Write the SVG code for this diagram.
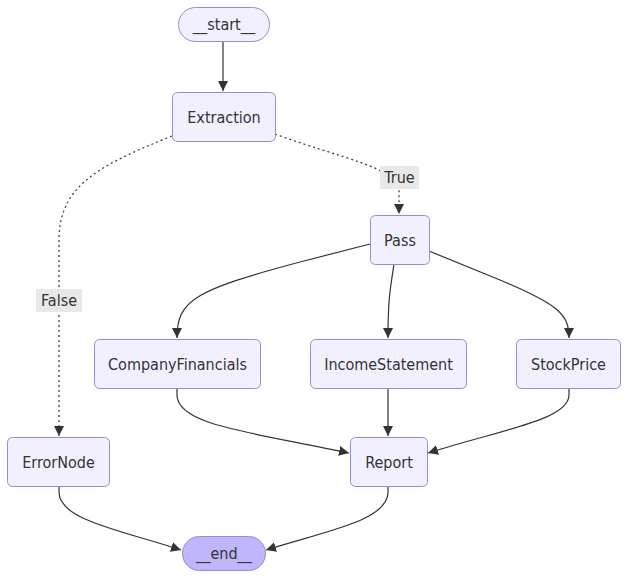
<svg xmlns="http://www.w3.org/2000/svg" width="629" height="579" viewBox="0 0 629 579">
<style>
.bg{fill:#ffffff}
.node rect{fill:#f2f0ff;stroke:#9c86d8;stroke-width:1}
.node.end rect{fill:#bfb6fc}
text{font-family:"Liberation Sans Narrow","DejaVu Sans Condensed","Liberation Sans",sans-serif;font-size:16px;fill:#333333;text-anchor:middle;dominant-baseline:central}
.edge{fill:none;stroke:#333333;stroke-width:1.2}
.dotted{stroke-dasharray:2 3}
.lbl rect{fill:#e8e8e8}
</style>
<defs>
<marker id="arrow" viewBox="0 0 10 10" refX="10" refY="5" markerWidth="10" markerHeight="10" markerUnits="userSpaceOnUse" orient="auto">
<path d="M0,0 L10,5 L0,10 z" fill="#333333"/>
</marker>
</defs>
<rect class="bg" x="0" y="0" width="629" height="579"/>
<g id="connectors">
<path class="edge" d="M223,41 L223,91" marker-end="url(#arrow)"/>
<path class="edge dotted" d="M275,134 C340,158 399,168 399,190 L399,214" marker-end="url(#arrow)"/>
<path class="edge dotted" d="M172,136 C100,165 59,185 59,240 L59,436" marker-end="url(#arrow)"/>
<path class="edge" d="M370,244 L300,262 C195,290 177,300 177,338" marker-end="url(#arrow)"/>
<path class="edge" d="M394,264 C390,290 388,300 388,338" marker-end="url(#arrow)"/>
<path class="edge" d="M429,251 L500,280 C560,305 569,315 569,338" marker-end="url(#arrow)"/>
<path class="edge" d="M177,388 L177,395 C177,425 250,432 349,453" marker-end="url(#arrow)"/>
<path class="edge" d="M388,388 L388,436" marker-end="url(#arrow)"/>
<path class="edge" d="M569,388 L569,395 C569,420 500,430 428,453" marker-end="url(#arrow)"/>
<path class="edge" d="M59,486 L59,492 C59,520 120,530 181,550" marker-end="url(#arrow)"/>
<path class="edge" d="M388,486 L388,492 C388,520 330,530 266,550" marker-end="url(#arrow)"/>
<g class="lbl" id="label-true"><rect x="380" y="166" width="39" height="23"/><text x="399.5" y="177.5">True</text></g>
<g class="lbl" id="label-false"><rect x="36" y="289" width="46" height="23"/><text x="59" y="300.5">False</text></g>
</g>
<g id="start" class="node"><rect x="178.5" y="7.5" width="91" height="34" rx="17"/><text x="224" y="24.5">__start__</text></g>
<g id="Extraction" class="node"><rect x="172.5" y="92.5" width="103" height="49" rx="5"/><text x="224" y="117">Extraction</text></g>
<g id="Pass" class="node"><rect x="370.5" y="215.5" width="59" height="49" rx="5"/><text x="400" y="240">Pass</text></g>
<g id="CompanyFinancials" class="node"><rect x="94.5" y="339.5" width="166" height="49" rx="5"/><text x="177.5" y="364">CompanyFinancials</text></g>
<g id="IncomeStatement" class="node"><rect x="310.5" y="339.5" width="156" height="49" rx="5"/><text x="388.5" y="364">IncomeStatement</text></g>
<g id="StockPrice" class="node"><rect x="516.5" y="339.5" width="104" height="49" rx="5"/><text x="568.5" y="364">StockPrice</text></g>
<g id="ErrorNode" class="node"><rect x="7.5" y="437.5" width="102" height="49" rx="5"/><text x="58.5" y="462">ErrorNode</text></g>
<g id="Report" class="node"><rect x="350.5" y="437.5" width="77" height="49" rx="5"/><text x="389" y="462">Report</text></g>
<g id="end" class="node end"><rect x="182.5" y="536.5" width="83" height="34" rx="17"/><text x="224" y="553.5">__end__</text></g>
</svg>
